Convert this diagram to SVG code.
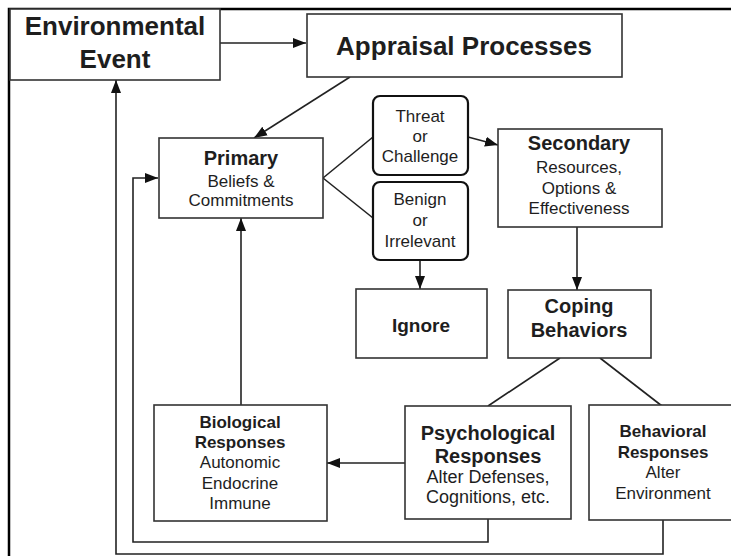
<svg xmlns="http://www.w3.org/2000/svg" width="731" height="556" viewBox="0 0 731 556">
<style>
.box{fill:#fff;stroke:#333;stroke-width:1.6}
.rbox{fill:#fff;stroke:#111;stroke-width:2.2}
.t{font-family:"Liberation Sans",Arial,sans-serif;fill:#1e1e1e;text-anchor:middle}
.b{font-weight:bold}
.s17{font-size:17px}
.s18{font-size:18px}
.s20{font-size:20px}
.s26{font-size:26px}
.c{fill:none;stroke:#222;stroke-width:1.6}
.frame{fill:none;stroke:#000;stroke-width:2.5}
</style>
<defs>
<marker id="ah" markerUnits="userSpaceOnUse" markerWidth="14" markerHeight="12" refX="13" refY="6" orient="auto">
<path d="M0,1 L13,6 L0,11 Z" fill="#111"/>
</marker>
</defs>
<rect width="731" height="556" fill="#fff"/>
<path class="frame" d="M9,556 V9 H731"/>

<g id="connectors">
<line class="c" x1="220" y1="43" x2="306" y2="43" marker-end="url(#ah)"/>
<line class="c" x1="350" y1="77" x2="254" y2="138" marker-end="url(#ah)"/>
<line class="c" x1="323" y1="178" x2="373" y2="137"/>
<line class="c" x1="323" y1="178" x2="373" y2="218"/>
<line class="c" x1="468" y1="137" x2="498" y2="145" marker-end="url(#ah)"/>
<line class="c" x1="420" y1="260" x2="420" y2="289" marker-end="url(#ah)"/>
<line class="c" x1="577" y1="227" x2="577" y2="290" marker-end="url(#ah)"/>
<line class="c" x1="560" y1="358" x2="488" y2="406"/>
<line class="c" x1="600" y1="358" x2="662" y2="406"/>
<line class="c" x1="405" y1="463" x2="327" y2="463" marker-end="url(#ah)"/>
<line class="c" x1="241" y1="405" x2="241" y2="218" marker-end="url(#ah)"/>
<polyline class="c" points="488,519 488,542 133,542 133,178 158,178" marker-end="url(#ah)"/>
<polyline class="c" points="663,520 663,554 116,554 116,80" marker-end="url(#ah)"/>
</g>

<g id="environmental-event">
<rect class="box" x="10" y="9" width="210" height="71"/>
<text class="t b s26" x="115" y="35">Environmental</text>
<text class="t b s26" x="115" y="68">Event</text>
</g>

<g id="appraisal-processes">
<rect class="box" x="307" y="14" width="315" height="63"/>
<text class="t b s26" x="464" y="55">Appraisal Processes</text>
</g>

<g id="primary">
<rect class="box" x="159" y="138" width="164" height="80"/>
<text class="t b s20" x="241" y="165">Primary</text>
<text class="t s17" x="241" y="187">Beliefs &amp;</text>
<text class="t s17" x="241" y="206">Commitments</text>
</g>

<g id="threat-or-challenge">
<rect class="rbox" x="373" y="96" width="95" height="79" rx="7"/>
<text class="t s17" x="420" y="122">Threat</text>
<text class="t s17" x="420" y="142">or</text>
<text class="t s17" x="420" y="162">Challenge</text>
</g>

<g id="benign-or-irrelevant">
<rect class="rbox" x="373" y="182" width="95" height="78" rx="7"/>
<text class="t s17" x="420" y="205">Benign</text>
<text class="t s17" x="420" y="226">or</text>
<text class="t s17" x="420" y="247">Irrelevant</text>
</g>

<g id="ignore">
<rect class="box" x="356" y="289" width="131" height="69"/>
<text class="t b" style="font-size:19px" x="421" y="332">Ignore</text>
</g>

<g id="secondary">
<rect class="box" x="498" y="129" width="164" height="98"/>
<text class="t b s20" x="579" y="150">Secondary</text>
<text class="t s17" x="579" y="173">Resources,</text>
<text class="t s17" x="579" y="194">Options &amp;</text>
<text class="t s17" x="579" y="214">Effectiveness</text>
</g>

<g id="coping-behaviors">
<rect class="box" x="508" y="290" width="143" height="68"/>
<text class="t b s20" x="579" y="313">Coping</text>
<text class="t b s20" x="579" y="337">Behaviors</text>
</g>

<g id="psychological-responses">
<rect class="box" x="405" y="406" width="166" height="113"/>
<text class="t b s20" x="488" y="440">Psychological</text>
<text class="t b s20" x="488" y="463">Responses</text>
<text class="t s18" x="488" y="483">Alter Defenses,</text>
<text class="t s18" x="488" y="503">Cognitions, etc.</text>
</g>

<g id="behavioral-responses">
<rect class="box" x="589" y="405" width="150" height="115"/>
<text class="t b s17" x="663" y="437">Behavioral</text>
<text class="t b s17" x="663" y="458">Responses</text>
<text class="t s17" x="663" y="478">Alter</text>
<text class="t s17" x="663" y="499">Environment</text>
</g>

<g id="biological-responses">
<rect class="box" x="154" y="405" width="173" height="116"/>
<text class="t b s17" x="240" y="428">Biological</text>
<text class="t b s17" x="240" y="448">Responses</text>
<text class="t s17" x="240" y="468">Autonomic</text>
<text class="t s17" x="240" y="489">Endocrine</text>
<text class="t s17" x="240" y="509">Immune</text>
</g>
</svg>
